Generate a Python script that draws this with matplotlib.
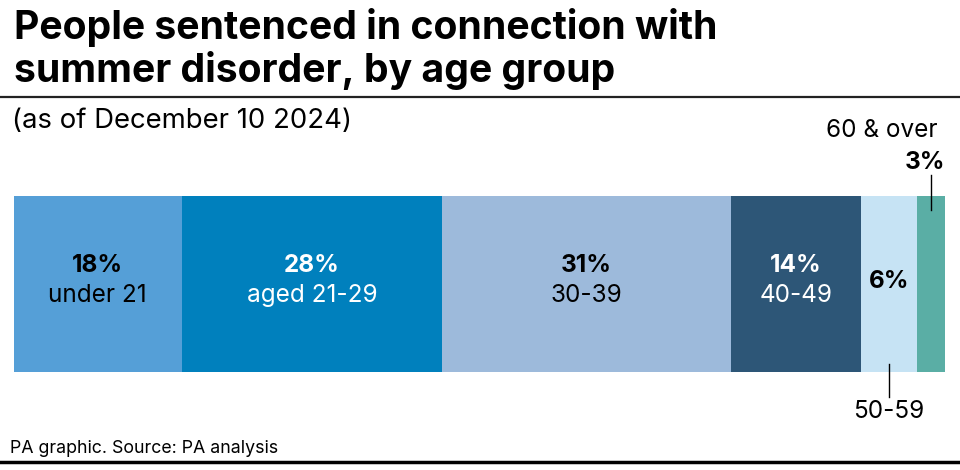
import numpy as np
import matplotlib.pyplot as plt
import matplotlib.transforms as mtransforms

plt.rcParams['font.family'] = ['Inter', 'DejaVu Sans']

# data
groups = ['under 21', 'aged 21-29', '30-39', '40-49', '50-59', '60 & over']
shares = [18, 28, 31, 14, 6, 3]
colours = ['#559fd7', '#0080bd', '#9dbadb', '#2d5677', '#c6e3f4', '#5aaea5']
text_colours = ['black', 'white', 'black', 'white', 'black', 'black']

W, H = 960, 470
fig = plt.figure(figsize=(W / 100, H / 100), dpi=100)

def fy(px):
    return 1 - px / H

# bar axes: x 14..945 px, y 196..372 px
ax = fig.add_axes([14 / W, fy(372), 931 / W, 176 / H])
lefts = np.concatenate([[0], np.cumsum(shares)[:-1]])
ax.barh(0.5, shares, left=lefts, height=1, color=colours, linewidth=0)
ax.set_xlim(0, sum(shares))
ax.set_ylim(0, 1)
ax.axis('off')

mids = lefts + np.array(shares) / 2
trans = mtransforms.blended_transform_factory(ax.transData, ax.transAxes)
for i in range(4):
    ax.text(mids[i], (372 - 272) / 176, f'{shares[i]}%', transform=trans, ha='center',
            va='baseline', fontsize=17.5, fontweight='bold', color=text_colours[i])
    ax.text(mids[i], (372 - 302) / 176, groups[i], transform=trans, ha='center',
            va='baseline', fontsize=17.5, color=text_colours[i])

# 50-59: pct inside, label below with leader
ax.text(mids[4], (372 - 282) / 176, f'{shares[4]}%', transform=trans, ha='center',
        va='center', fontsize=17.5, fontweight='bold', color='black')
ax.plot([mids[4], mids[4]], [(372 - 364) / 176, (372 - 397) / 176], transform=trans,
        color='black', lw=1, clip_on=False)
ax.text(mids[4], (372 - 418) / 176, groups[4], transform=trans, ha='center',
        va='baseline', fontsize=17.5, color='black')

# 60 & over: labels above with leader
ax.plot([mids[5], mids[5]], [(372 - 175) / 176, (372 - 210) / 176], transform=trans,
        color='black', lw=1, clip_on=False)
fig.text(938 / W, fy(137), groups[5], ha='right', va='baseline', fontsize=17.5)
fig.text(945 / W, fy(169), f'{shares[5]}%', ha='right', va='baseline', fontsize=17.5,
         fontweight='bold')

# titles
fig.text(14 / W, fy(39), 'People sentenced in connection with', ha='left', va='baseline',
         fontsize=28.2, fontweight='bold')
fig.text(14 / W, fy(82), 'summer disorder, by age group', ha='left', va='baseline',
         fontsize=28.2, fontweight='bold')
fig.add_artist(plt.Line2D([0, 1], [fy(97), fy(97)], color='#222222', lw=1.6))
fig.text(12 / W, fy(128), '(as of December 10 2024)', ha='left', va='baseline', fontsize=19.8)

# footer
fig.text(10 / W, fy(453), 'PA graphic. Source: PA analysis', ha='left', va='baseline',
         fontsize=12.8)
fig.add_artist(plt.Line2D([0, 1], [fy(462), fy(462)], color='black', lw=2.5))

fig.savefig('out.png', dpi=100)
